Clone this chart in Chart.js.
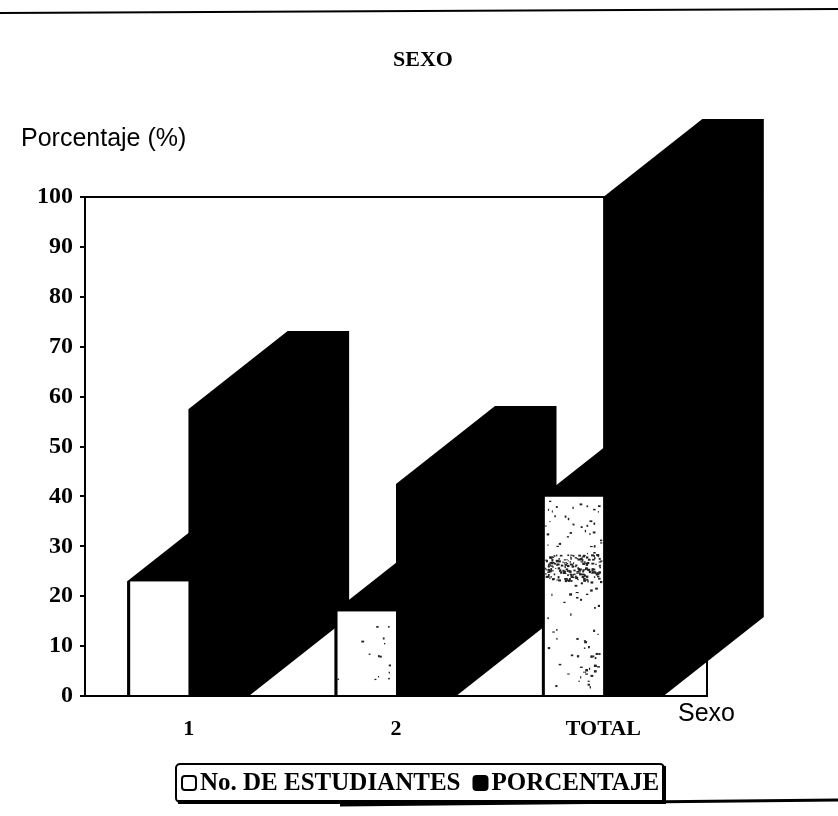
<!DOCTYPE html>
<html lang="es">
<head>
  <meta charset="UTF-8">
  <title>Sexo</title>
  <script src="https://cdn.jsdelivr.net/npm/chart.js"></script>
  <style>
    html, body { margin: 0; padding: 0; background: #fff; }
    canvas { display: block; }
  </style>
</head>
<body>
  <canvas id="chart" width="838" height="816"></canvas>

  <script>
    const categories = ['1', '2', 'TOTAL'];
    const estudiantes = [23, 17, 40];
    const porcentaje = [57.5, 42.5, 100];
    const serieNames = ['No. DE ESTUDIANTES', 'PORCENTAJE'];

    const SERIF = '"Liberation Serif", serif';
    const SANS = '"Liberation Sans", sans-serif';
    const DEPTH_X = 99;
    const DEPTH_Y = 78;

    // depth of every bar, drawn behind the faces
    const depthPlugin = {
      id: 'depth',
      beforeDatasetsDraw(chart) {
        const ctx = chart.ctx;
        const area = chart.chartArea;
        ctx.save();
        // top and right walls of the frame
        ctx.strokeStyle = '#000';
        ctx.lineWidth = 2;
        ctx.beginPath();
        ctx.moveTo(area.left, area.top);
        ctx.lineTo(area.right, area.top);
        ctx.lineTo(area.right, area.bottom);
        ctx.stroke();
        ctx.fillStyle = '#000';
        chart.data.datasets.forEach((ds, d) => {
          chart.getDatasetMeta(d).data.forEach(bar => {
            const l = bar.x - bar.width / 2;
            const r = bar.x + bar.width / 2;
            ctx.beginPath();
            ctx.moveTo(l, bar.y);
            ctx.lineTo(l + DEPTH_X, bar.y - DEPTH_Y);
            ctx.lineTo(r + DEPTH_X, bar.y - DEPTH_Y);
            ctx.lineTo(r + DEPTH_X, bar.base - DEPTH_Y);
            ctx.lineTo(r, bar.base);
            ctx.lineTo(l, bar.base);
            ctx.closePath();
            ctx.fill();
          });
        });
        ctx.restore();
      },
      afterDatasetsDraw(chart) {
        // scan specks on the white faces
        const ctx = chart.ctx;
        const bars = chart.getDatasetMeta(0).data;
        let seed = 7;
        const next = () => (seed = (seed * 16807) % 2147483647) / 2147483647;
        const specks = (bar, n, y0, y1) => {
          const l = bar.x - bar.width / 2;
          for (let i = 0; i < n; i++) {
            const x = l + 3 + next() * (bar.width - 6);
            const y = bar.y + 4 + (y0 + next() * (y1 - y0)) * (bar.base - bar.y - 8);
            ctx.fillRect(x, y, 1 + next() * 2, 1 + next() * 1.5);
          }
        };
        ctx.save();
        ctx.fillStyle = '#222';
        specks(bars[1], 14, 0.1, 0.9);
        specks(bars[2], 110, 0, 1);
        specks(bars[2], 170, 0.28, 0.42);
        ctx.restore();
      },
      afterDraw(chart) {
        const ctx = chart.ctx;
        ctx.save();
        ctx.fillStyle = '#000';
        ctx.strokeStyle = '#000';

        // page rules from the scan
        ctx.lineWidth = 2;
        ctx.beginPath();
        ctx.moveTo(0, 13);
        ctx.lineTo(838, 9);
        ctx.stroke();
        ctx.lineWidth = 3;
        ctx.beginPath();
        ctx.moveTo(340, 805);
        ctx.lineTo(838, 800);
        ctx.stroke();

        // axis captions
        ctx.textBaseline = 'alphabetic';
        ctx.textAlign = 'left';
        ctx.font = '25px ' + SANS;
        ctx.fillText('Porcentaje (%)', 21, 146);
        ctx.fillText('Sexo', 678, 721);

        // legend
        ctx.lineWidth = 2;
        ctx.beginPath();
        ctx.roundRect(176, 764, 488, 38, 4);
        ctx.stroke();
        ctx.lineWidth = 4;
        ctx.beginPath();
        ctx.moveTo(178, 802);
        ctx.lineTo(664, 802);
        ctx.lineTo(664, 766);
        ctx.stroke();

        ctx.font = 'bold 25px ' + SERIF;
        ctx.textBaseline = 'middle';
        let x = 182;
        chart.data.datasets.forEach(ds => {
          ctx.beginPath();
          ctx.roundRect(x, 776, 14, 14, 3);
          ctx.fillStyle = ds.backgroundColor;
          ctx.fill();
          ctx.lineWidth = 2;
          ctx.stroke();
          ctx.fillStyle = '#000';
          ctx.fillText(ds.label, x + 18, 784);
          x += 18 + ctx.measureText(ds.label).width + 13;
        });
        ctx.restore();
      }
    };

    new Chart(document.getElementById('chart').getContext('2d'), {
      type: 'bar',
      data: {
        labels: categories,
        datasets: [
          {
            label: serieNames[0],
            data: estudiantes,
            backgroundColor: '#fff',
            borderColor: '#000',
            borderWidth: { left: 3 }
          },
          {
            label: serieNames[1],
            data: porcentaje,
            backgroundColor: '#000'
          }
        ]
      },
      options: {
        responsive: false,
        animation: false,
        categoryPercentage: 0.593,
        barPercentage: 1,
        layout: { padding: { left: 8 } },
        plugins: {
          legend: { display: false },
          tooltip: { enabled: false },
          title: {
            display: true,
            text: 'SEXO',
            color: '#000',
            font: { family: SERIF, size: 22, weight: 'bold' },
            padding: { top: 47, bottom: 123.6 }
          }
        },
        scales: {
          x: {
            grid: { display: false },
            border: { color: '#000', width: 2 },
            ticks: {
              color: '#000',
              padding: 12,
              maxRotation: 0,
              font: { family: SERIF, size: 22, weight: 'bold' }
            },
            afterFit(scale) { scale.height = 120; }
          },
          y: {
            min: 0,
            max: 100,
            grid: { drawOnChartArea: false, color: '#000', lineWidth: 2, tickLength: 5 },
            border: { color: '#000', width: 2 },
            ticks: {
              stepSize: 10,
              color: '#000',
              padding: 7,
              font: { family: SERIF, size: 24, weight: 'bold' }
            },
            afterFit(scale) { scale.width = 77; }
          },
          // empty axis, keeps the room on the right of the frame
          side: {
            position: 'right',
            grid: { display: false },
            border: { display: false },
            ticks: { display: false },
            afterFit(scale) { scale.width = 131; }
          }
        }
      },
      plugins: [depthPlugin]
    });
  </script>
</body>
</html>
